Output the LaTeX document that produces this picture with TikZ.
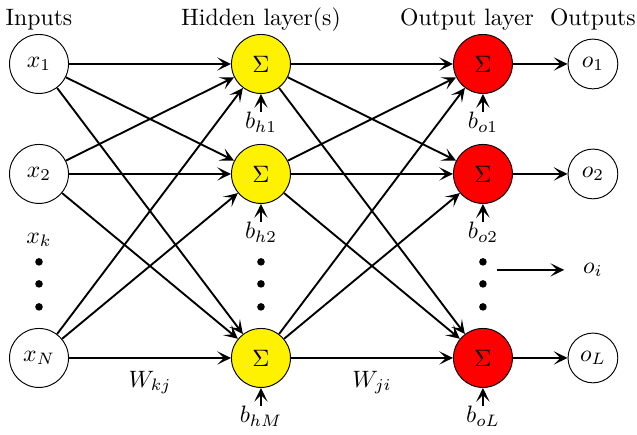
\documentclass[tikz,border=0pt]{standalone}
\usepackage{amsmath}
\usepackage{xcolor}
\usepackage{tikz}
\usetikzlibrary{arrows.meta, positioning}
\definecolor{hidyellow}{RGB}{255,242,0}
\definecolor{outred}{RGB}{255,0,0}

\begin{document}
\begin{tikzpicture}[
    node distance=1.631cm and 3.292cm, on grid,
    neuron/.style={circle, draw, minimum size=24.9pt, inner sep=0pt},
    hid/.style={neuron, fill=hidyellow},
    outn/.style={neuron, fill=outred},
    result/.style={circle, draw, minimum size=21pt, inner sep=0pt},
    arr/.style={-{Stealth[length=5.8pt, width=5.6pt, inset=2.8pt]}, thick},
    bias/.style={inner sep=0pt},
    dot/.style={circle, fill, inner sep=0pt, minimum size=3.2pt},
    hdr/.style={text height=1.6ex, text depth=.3ex}
]
\useasboundingbox (0,0) rectangle (268.8pt,-183.5pt);

\node[neuron] (x1) at (16.46pt,-27pt) {$x_1$};
\node[neuron, below=of x1] (x2) {$x_2$};
\node[neuron, below=2.729cm of x2] (xN) {$x_N$};
\node[hid, right=of x1] (h1) {$\Sigma$};
\node[hid, right=of x2] (h2) {$\Sigma$};
\node[hid, right=of xN] (hM) {$\Sigma$};
\node[outn, right=of h1] (o1) {$\Sigma$};
\node[outn, right=of h2] (o2) {$\Sigma$};
\node[outn, right=of hM] (oL) {$\Sigma$};
\node[result, right=1.631cm of o1] (y1) {$o_1$};
\node[result, right=1.631cm of o2] (y2) {$o_2$};
\node[result, right=1.631cm of oL] (yL) {$o_L$};

\node[hdr, above=19.2pt of x1] (tin) {Inputs};
\node[hdr, above=19.2pt of h1] (thid) {Hidden layer(s)};
\node[hdr, above=19.2pt of o1, xshift=-6.75pt] (tout) {Output layer};
\node[hdr, above=19.2pt of y1] (tres) {Outputs};

\node[bias, below=24.7pt of h1] (bh1) {$b_{h1}$};
\node[bias, below=24.7pt of h2] (bh2) {$b_{h2}$};
\node[bias, below=24.7pt of hM] (bhM) {$b_{hM}$};
\node[bias, below=24.7pt of o1] (bo1) {$b_{o1}$};
\node[bias, below=24.7pt of o2] (bo2) {$b_{o2}$};
\node[bias, below=24.7pt of oL] (boL) {$b_{oL}$};

\node[below=27.9pt of x2] (xk) {$x_k$};
\foreach \c in {x2, h2, o2} {
    \node[dot, below=37.1pt of \c] (\c d1) {};
    \node[dot, below=46.4pt of \c] (\c d2) {};
    \node[dot, below=56.1pt of \c] (\c d3) {};
}
\node[below=40.5pt of y2] (oi) {$o_i$};
\coordinate[below=40.5pt of o2, xshift=5.9pt] (ia);

\draw[arr] (x1) -- (h1);
\draw[arr] (x1) -- (h2);
\draw[arr] (x1) -- (hM);
\draw[arr] (x2) -- (h1);
\draw[arr] (x2) -- (h2);
\draw[arr] (x2) -- (hM);
\draw[arr] (xN) -- (h1);
\draw[arr] (xN) -- (h2);
\draw[arr] (xN) -- node[below=1.7pt] (wkj) {$W_{kj}$} (hM);
\draw[arr] (h1) -- (o1);
\draw[arr] (h1) -- (o2);
\draw[arr] (h1) -- (oL);
\draw[arr] (h2) -- (o1);
\draw[arr] (h2) -- (o2);
\draw[arr] (h2) -- (oL);
\draw[arr] (hM) -- (o1);
\draw[arr] (hM) -- (o2);
\draw[arr] (hM) -- node[below=1.7pt] (wji) {$W_{ji}$} (oL);
\draw[arr] (o1) -- (y1);
\draw[arr] (o2) -- (y2);
\draw[arr] (oL) -- (yL);
\draw[arr] (bh1) -- (h1);
\draw[arr] (bh2) -- (h2);
\draw[arr] (bhM) -- (hM);
\draw[arr] (bo1) -- (o1);
\draw[arr] (bo2) -- (o2);
\draw[arr] (boL) -- (oL);
\draw[arr, shorten >=4.5pt] (ia) -- (oi);
\end{tikzpicture}
\end{document}
